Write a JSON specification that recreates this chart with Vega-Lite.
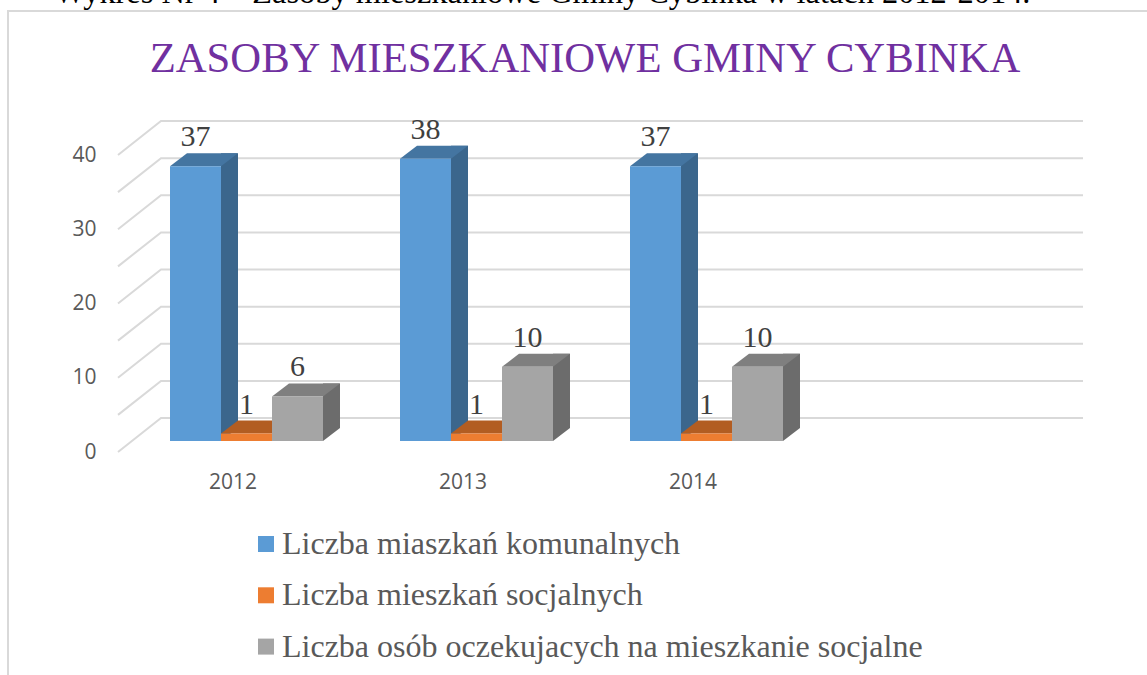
{
  "$schema": "https://vega.github.io/schema/vega-lite/v6.json",
  "width": 920,
  "height": 297,
  "autosize": {"type": "none"},
  "padding": {"left": 131.5, "top": 144, "right": 95.5, "bottom": 234},
  "background": "white",
  "view": {"stroke": null},
  "title": {
    "text": "ZASOBY MIESZKANIOWE GMINY CYBINKA",
    "font": "Liberation Serif",
    "fontSize": 42.7,
    "fontWeight": "normal",
    "color": "#7030A0",
    "anchor": "middle",
    "frame": "group",
    "dx": -6.5,
    "offset": -104
  },
  "datasets": {
    "d": [
      {"rok": "2012", "seria": "Liczba miaszkań komunalnych", "wartosc": 37},
      {"rok": "2012", "seria": "Liczba mieszkań socjalnych", "wartosc": 1},
      {"rok": "2012", "seria": "Liczba osób oczekujacych na mieszkanie socjalne", "wartosc": 6},
      {"rok": "2013", "seria": "Liczba miaszkań komunalnych", "wartosc": 38},
      {"rok": "2013", "seria": "Liczba mieszkań socjalnych", "wartosc": 1},
      {"rok": "2013", "seria": "Liczba osób oczekujacych na mieszkanie socjalne", "wartosc": 10},
      {"rok": "2014", "seria": "Liczba miaszkań komunalnych", "wartosc": 37},
      {"rok": "2014", "seria": "Liczba mieszkań socjalnych", "wartosc": 1},
      {"rok": "2014", "seria": "Liczba osób oczekujacych na mieszkanie socjalne", "wartosc": 10}
    ]
  },
  "encoding": {
    "x": {
      "field": "rok",
      "type": "nominal",
      "title": null,
      "scale": {"domain": ["2012", "2013", "2014", " "], "paddingInner": 0, "paddingOuter": 0},
      "axis": {"labelAngle": 0, "domain": false, "ticks": false, "labelFont": "Open Sans", "labelFontSize": 21, "labelColor": "#595959", "labelOffset": -13.5, "labelPadding": 30}
    }
  },
  "layer": [
    {
      "data": {"values": [{"t": 0}, {"t": 5}, {"t": 10}, {"t": 15}, {"t": 20}, {"t": 25}, {"t": 30}, {"t": 35}, {"t": 40}]},
      "mark": {"type": "point", "shape": "M-128.5,11L-85.5,-23H836.5", "size": 4, "filled": false, "stroke": "#D9D9D9", "strokeWidth": 2, "opacity": 1},
      "encoding": {
        "x": {"datum": "2012"},
        "y": {
          "field": "t",
          "type": "quantitative",
          "title": null,
          "scale": {"domain": [0, 40]},
          "axis": {"values": [0, 5, 10, 15, 20, 25, 30, 35, 40], "labelOverlap": false, "domain": false, "ticks": false, "grid": false, "labelFont": "Open Sans", "labelFontSize": 21, "labelColor": "#595959", "labelOffset": 11, "labelPadding": 35.5}
        }
      }
    },
    {
      "data": {"values": [{"n": "ramka"}]},
      "mark": {"type": "point", "shape": "M-238.5,531V-133H900.5", "size": 4, "filled": false, "stroke": "#D9D9D9", "strokeWidth": 2, "opacity": 1},
      "encoding": {"x": {"datum": "2012"}, "y": {"datum": 40}}
    },
    {
      "data": {"values": [{"n": "Wykres Nr 4 – Zasoby mieszkaniowe Gminy Cybinka w latach 2012-2014."}]},
      "mark": {"type": "text", "font": "Liberation Serif", "fontSize": 32.4, "color": "#000000", "align": "center", "baseline": "alphabetic", "dx": 66, "dy": -141},
      "encoding": {"x": {"datum": "2013"}, "y": {"datum": 40}, "text": {"field": "n"}}
    },
    {
      "data": {"name": "d"},
      "transform": [{"filter": "datum.seria === 'Liczba miaszkań komunalnych'"}],
      "mark": {"type": "rule", "xOffset": -17, "yOffset": -13, "y2Offset": -13, "strokeWidth": 17, "color": "#3B668C"},
      "encoding": {"y": {"field": "wartosc", "type": "quantitative"}, "y2": {"datum": 0}}
    },
    {
      "data": {"name": "d"},
      "transform": [{"filter": "datum.seria === 'Liczba mieszkań socjalnych'"}],
      "mark": {"type": "rule", "xOffset": 34, "yOffset": -13, "y2Offset": -13, "strokeWidth": 17, "color": "#AD5A20"},
      "encoding": {"y": {"field": "wartosc", "type": "quantitative"}, "y2": {"datum": 0}}
    },
    {
      "data": {"name": "d"},
      "transform": [{"filter": "datum.seria === 'Liczba osób oczekujacych na mieszkanie socjalne'"}],
      "mark": {"type": "rule", "xOffset": 85, "yOffset": -13, "y2Offset": -13, "strokeWidth": 17, "color": "#6C6C6C"},
      "encoding": {"y": {"field": "wartosc", "type": "quantitative"}, "y2": {"datum": 0}}
    },
    {
      "data": {"name": "d"},
      "mark": {"type": "point", "shape": "M25.5,0L42.5,-13H25.5Z", "size": 4, "filled": true, "opacity": 1},
      "encoding": {
        "xOffset": {"field": "seria", "scale": {"paddingOuter": 0.755, "paddingInner": 0}},
        "y": {"datum": 0},
        "color": {"field": "seria", "legend": null, "scale": {"range": ["#3B668C", "#AD5A20", "#6C6C6C"]}}
      }
    },
    {
      "data": {"name": "d"},
      "mark": {"type": "point", "shape": "M-25.5,0L-8.5,-13H42.5L25.5,0Z", "size": 4, "filled": true, "opacity": 1},
      "encoding": {
        "xOffset": {"field": "seria", "scale": {"paddingOuter": 0.755, "paddingInner": 0}},
        "y": {"field": "wartosc", "type": "quantitative"},
        "color": {"field": "seria", "legend": null, "scale": {"range": ["#4475A1", "#B25D22", "#7F7F7F"]}}
      }
    },
    {
      "data": {"name": "d"},
      "mark": {"type": "bar"},
      "encoding": {
        "xOffset": {"field": "seria", "scale": {"paddingOuter": 0.755, "paddingInner": 0}},
        "y": {"field": "wartosc", "type": "quantitative"},
        "color": {
          "field": "seria",
          "title": null,
          "scale": {"range": ["#5B9BD5", "#ED7D31", "#A5A5A5"]},
          "legend": {
            "orient": "none",
            "legendX": 118.5,
            "legendY": 384,
            "symbolType": "square",
            "symbolSize": 256,
            "symbolStrokeWidth": 0,
            "labelFont": "Liberation Serif",
            "labelFontSize": 32,
            "labelColor": "#595959",
            "labelLimit": 800,
            "rowPadding": 19.3,
            "labelOffset": 0
          }
        }
      }
    },
    {
      "data": {"name": "d"},
      "mark": {"type": "text", "font": "Liberation Serif", "fontSize": 30, "color": "#404040", "baseline": "middle", "dy": -29},
      "encoding": {
        "xOffset": {"field": "seria", "scale": {"paddingOuter": 0.755, "paddingInner": 0}},
        "y": {"field": "wartosc", "type": "quantitative"},
        "text": {"field": "wartosc", "type": "quantitative"}
      }
    }
  ],
  "resolve": {"scale": {"color": "independent"}}
}
